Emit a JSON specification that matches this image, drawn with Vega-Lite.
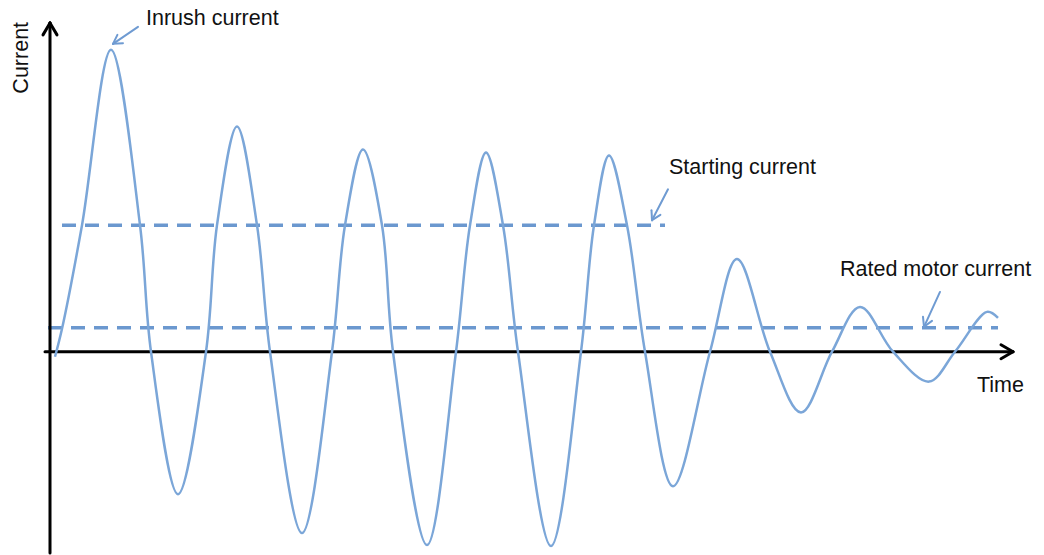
{
  "$schema": "https://vega.github.io/schema/vega-lite/v6.json",
  "width": 1044,
  "height": 555,
  "autosize": {"type": "fit", "contains": "padding"},
  "padding": 0,
  "background": "white",
  "config": {"view": {"stroke": null}},
  "datasets": {
    "wave": [
      {"t": 55, "i": 358}, {"t": 62, "i": 330}, {"t": 82, "i": 226},
      {"t": 111, "i": 50},
      {"t": 140, "i": 226}, {"t": 151, "i": 353}, {"t": 178, "i": 496}, {"t": 206, "i": 353},
      {"t": 217, "i": 226}, {"t": 237, "i": 127}, {"t": 257, "i": 226}, {"t": 270, "i": 353},
      {"t": 302, "i": 535}, {"t": 332, "i": 353}, {"t": 345, "i": 226}, {"t": 363, "i": 150},
      {"t": 382, "i": 226}, {"t": 393, "i": 353}, {"t": 427, "i": 547}, {"t": 456, "i": 353},
      {"t": 470, "i": 226}, {"t": 486, "i": 153}, {"t": 503, "i": 226}, {"t": 518, "i": 353},
      {"t": 551, "i": 548}, {"t": 581, "i": 353}, {"t": 594, "i": 226}, {"t": 609, "i": 156},
      {"t": 627, "i": 226}, {"t": 645, "i": 353}, {"t": 673, "i": 488}, {"t": 710, "i": 353},
      {"t": 737, "i": 260}, {"t": 770, "i": 353}, {"t": 801, "i": 414}, {"t": 832, "i": 353},
      {"t": 860, "i": 308}, {"t": 893, "i": 353}, {"t": 929, "i": 383}, {"t": 955, "i": 353},
      {"t": 987, "i": 313}, {"t": 998, "i": 319}
    ],
    "levels": [
      {"name": "Starting current", "x1": 62, "x2": 665, "y": 226},
      {"name": "Rated motor current", "x1": 48, "x2": 998, "y": 329}
    ],
    "axes": [
      {"x1": 50, "y1": 555, "x2": 50, "y2": 23},
      {"x1": 43, "y1": 35, "x2": 50, "y2": 23},
      {"x1": 57, "y1": 35, "x2": 50, "y2": 23},
      {"x1": 45, "y1": 353, "x2": 1013, "y2": 353},
      {"x1": 1001, "y1": 346, "x2": 1013, "y2": 353},
      {"x1": 1001, "y1": 360, "x2": 1013, "y2": 353}
    ],
    "pointers": [
      {"x1": 138, "y1": 27, "x2": 113, "y2": 44},
      {"x1": 123, "y1": 43.3, "x2": 113, "y2": 44},
      {"x1": 117.4, "y1": 35, "x2": 113, "y2": 44},
      {"x1": 668, "y1": 190, "x2": 652, "y2": 221},
      {"x1": 660.4, "y1": 215.6, "x2": 652, "y2": 221},
      {"x1": 651.5, "y1": 211, "x2": 652, "y2": 221},
      {"x1": 940, "y1": 293, "x2": 924, "y2": 328},
      {"x1": 932, "y1": 322, "x2": 924, "y2": 328},
      {"x1": 923, "y1": 318, "x2": 924, "y2": 328}
    ],
    "labels": [
      {"label": "Inrush current", "x": 146, "y": 19},
      {"label": "Starting current", "x": 669, "y": 169},
      {"label": "Rated motor current", "x": 840, "y": 271},
      {"label": "Time", "x": 977, "y": 387}
    ],
    "ylabel": [{"label": "Current", "x": 22, "y": 58}]
  },
  "layer": [
    {
      "data": {"name": "levels"},
      "mark": {"type": "rule", "stroke": "#5b8dca", "strokeWidth": 3.5, "strokeDash": [14, 9], "opacity": 0.9},
      "encoding": {
        "x": {"field": "x1", "type": "quantitative", "scale": {"domain": [0, 1044], "nice": false, "zero": false}, "axis": null},
        "x2": {"field": "x2"},
        "y": {"field": "y", "type": "quantitative", "scale": {"domain": [0, 555], "nice": false, "zero": false, "reverse": true}, "axis": null}
      }
    },
    {
      "data": {"name": "axes"},
      "mark": {"type": "rule", "stroke": "#000000", "strokeWidth": 3, "strokeCap": "round"},
      "encoding": {
        "x": {"field": "x1", "type": "quantitative"},
        "x2": {"field": "x2"},
        "y": {"field": "y1", "type": "quantitative"},
        "y2": {"field": "y2"}
      }
    },
    {
      "data": {"name": "wave"},
      "mark": {"type": "line", "stroke": "#7ba6d8", "strokeWidth": 2.5, "interpolate": "catmull-rom"},
      "encoding": {
        "x": {"field": "t", "type": "quantitative"},
        "y": {"field": "i", "type": "quantitative"}
      }
    },
    {
      "data": {"name": "pointers"},
      "mark": {"type": "rule", "stroke": "#6f9bd2", "strokeWidth": 2, "strokeCap": "round"},
      "encoding": {
        "x": {"field": "x1", "type": "quantitative"},
        "x2": {"field": "x2"},
        "y": {"field": "y1", "type": "quantitative"},
        "y2": {"field": "y2"}
      }
    },
    {
      "data": {"name": "labels"},
      "mark": {"type": "text", "align": "left", "baseline": "middle", "font": "Liberation Sans", "fontSize": 21.5, "color": "#111111"},
      "encoding": {
        "x": {"field": "x", "type": "quantitative"},
        "y": {"field": "y", "type": "quantitative"},
        "text": {"field": "label"}
      }
    },
    {
      "data": {"name": "ylabel"},
      "mark": {"type": "text", "align": "center", "baseline": "middle", "angle": 270, "font": "Liberation Sans", "fontSize": 21.5, "color": "#111111"},
      "encoding": {
        "x": {"field": "x", "type": "quantitative"},
        "y": {"field": "y", "type": "quantitative"},
        "text": {"field": "label"}
      }
    }
  ]
}
